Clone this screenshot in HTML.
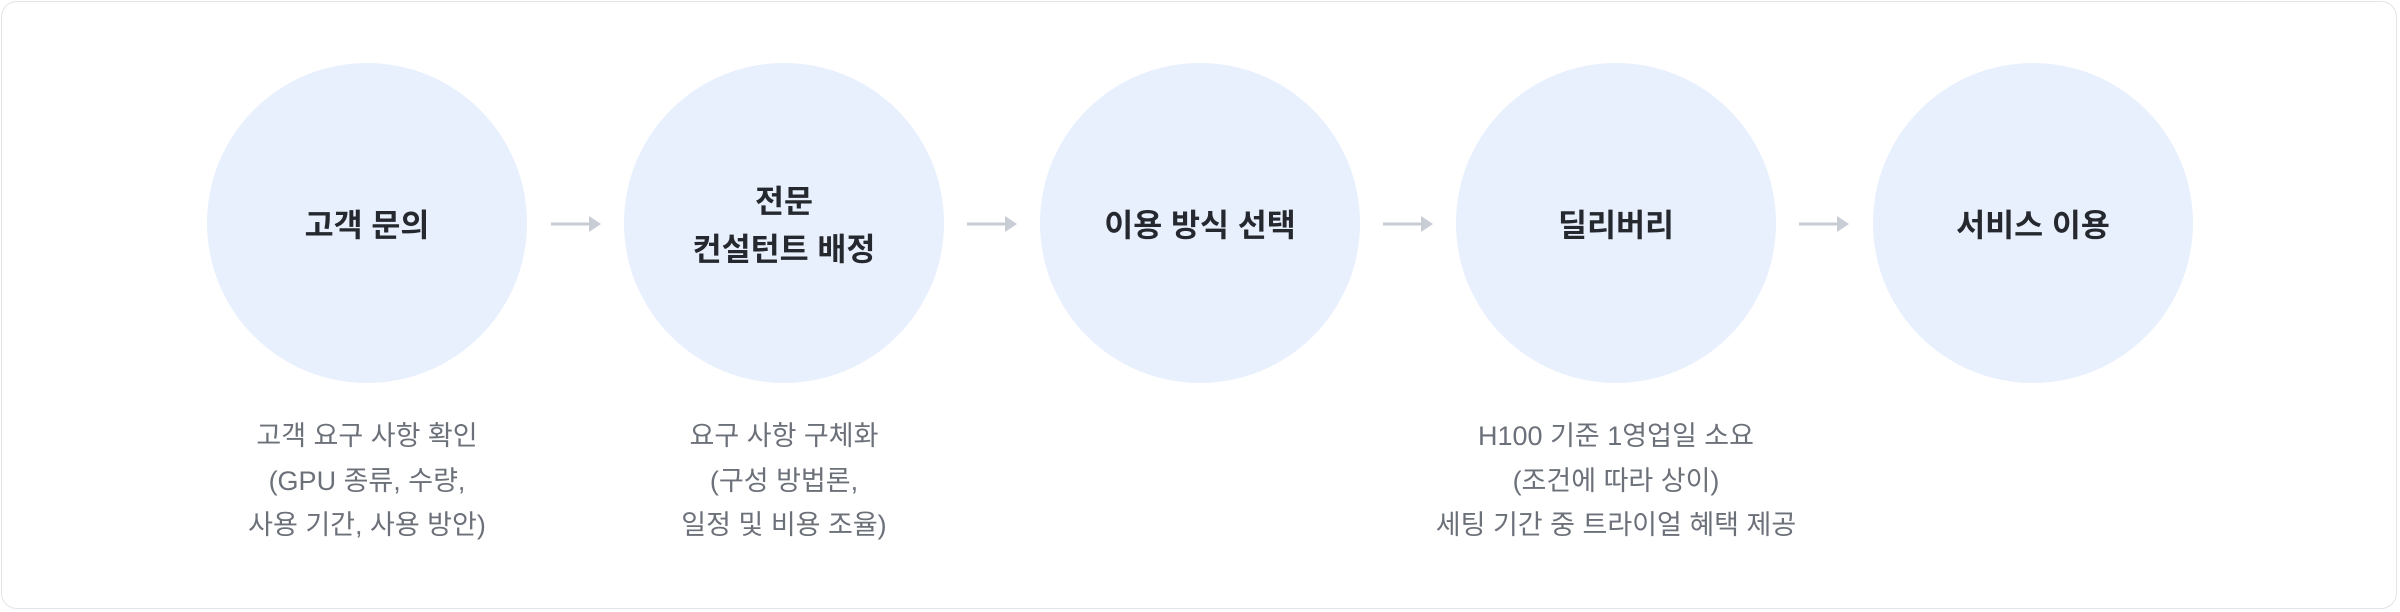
<!DOCTYPE html>
<html><head><meta charset="utf-8"><style>
html,body{margin:0;padding:0;background:#fff;}
.wrap{position:relative;width:2400px;height:612px;overflow:hidden;font-family:"Liberation Sans","Noto Sans CJK KR",sans-serif;}
.frame{position:absolute;left:1px;top:1px;width:2396px;height:608px;border:1.5px solid #e2e4e8;border-radius:16px;box-sizing:border-box;}
.c{position:absolute;width:320px;height:320px;border-radius:50%;background:#e8f0fd;top:63px;display:flex;align-items:center;justify-content:center;text-align:center;font-weight:bold;font-size:31.5px;line-height:48px;color:#25282e;padding-top:4px;box-sizing:border-box;}
.d{position:absolute;width:600px;top:414px;text-align:center;font-size:27px;line-height:44.5px;color:#6b7079;}
.a{position:absolute;top:216px;width:50px;height:16px;}
</style></head><body><div class="wrap">
<div class="frame"></div>
<div class="c" style="left:207px">고객 문의</div>
<div class="c" style="left:624px">전문<br>컨설턴트 배정</div>
<div class="c" style="left:1040px">이용 방식 선택</div>
<div class="c" style="left:1456px">딜리버리</div>
<div class="c" style="left:1873px">서비스 이용</div>
<svg class="a" style="left:551px" viewBox="0 0 50 16"><rect x="0" y="6.5" width="38" height="3" fill="#c8ccd4"/><polygon points="38,0 50,8 38,16" fill="#c8ccd4"/></svg>
<svg class="a" style="left:967px" viewBox="0 0 50 16"><rect x="0" y="6.5" width="38" height="3" fill="#c8ccd4"/><polygon points="38,0 50,8 38,16" fill="#c8ccd4"/></svg>
<svg class="a" style="left:1383px" viewBox="0 0 50 16"><rect x="0" y="6.5" width="38" height="3" fill="#c8ccd4"/><polygon points="38,0 50,8 38,16" fill="#c8ccd4"/></svg>
<svg class="a" style="left:1799px" viewBox="0 0 50 16"><rect x="0" y="6.5" width="38" height="3" fill="#c8ccd4"/><polygon points="38,0 50,8 38,16" fill="#c8ccd4"/></svg>
<div class="d" style="left:67px">고객 요구 사항 확인<br>(GPU 종류, 수량,<br>사용 기간, 사용 방안)</div>
<div class="d" style="left:484px">요구 사항 구체화<br>(구성 방법론,<br>일정 및 비용 조율)</div>
<div class="d" style="left:1316px">H100 기준 1영업일 소요<br>(조건에 따라 상이)<br>세팅 기간 중 트라이얼 혜택 제공</div>
</div></body></html>
